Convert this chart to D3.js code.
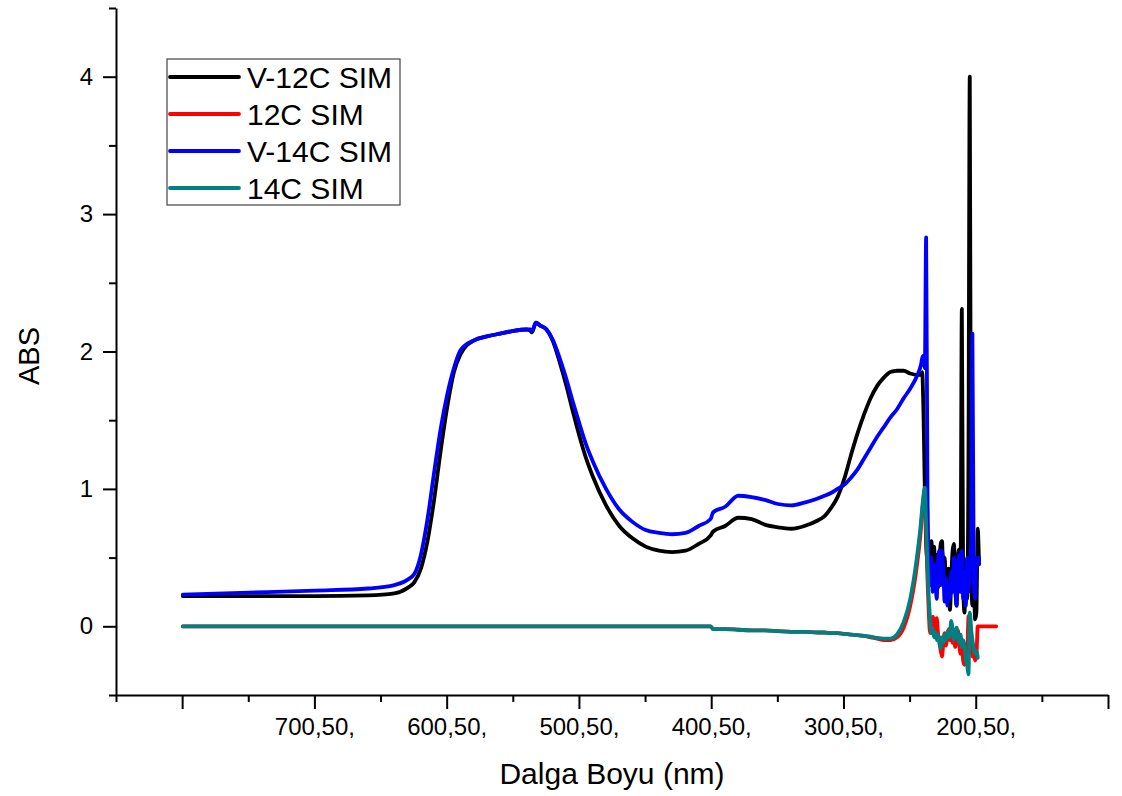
<!DOCTYPE html>
<html>
<head>
<meta charset="utf-8">
<script src="https://cdn.jsdelivr.net/npm/d3@7/dist/d3.min.js"></script>
<style>
  html, body { margin: 0; padding: 0; background: #fff; }
  svg { display: block; }
  text { font-family: "Liberation Sans", Arial, sans-serif; fill: #000; }
</style>
</head>
<body>
<svg id="chart" width="1122" height="796"></svg>
<script>
// Wavelength grid (nm), scanned from 800 nm downward
const wavelength = [
  800, 750, 700, 660, 640, 630, 625, 620, 615, 610,
  605, 600, 595, 590, 580, 570, 560, 550, 540, 537,
  536, 533, 530, 525, 520, 515, 510, 505, 500, 495,
  490, 480, 470, 460, 450, 440, 430, 420, 410, 401,
  399, 390, 380, 370, 360, 350, 340, 330, 320, 315,
  310, 305, 300, 295, 290, 285, 280, 275, 270, 265,
  260, 255, 250, 245, 242, 241, 240, 239, 238, 237,
  236, 235, 234, 233, 232, 231, 230, 229, 228, 227,
  226, 225, 224, 223, 222, 221, 220, 219, 218, 217,
  216, 215, 214, 213, 212, 211, 210, 209, 208, 207,
  206, 205, 204, 203, 202, 201, 200, 199, 198, 185
];

// Absorbance of each sample on the grid above (null = not measured)
const absV12C = [
  0.22, 0.22, 0.22, 0.225, 0.24, 0.28, 0.32, 0.42, 0.62, 0.92,
  1.28, 1.60, 1.85, 1.98, 2.08, 2.11, 2.13, 2.15, 2.16, 2.15,
  2.14, 2.21, 2.19, 2.16, 2.07, 1.92, 1.75, 1.56, 1.38, 1.22,
  1.09, 0.88, 0.73, 0.64, 0.58, 0.55, 0.54, 0.55, 0.60, 0.66,
  0.69, 0.73, 0.79, 0.78, 0.74, 0.72, 0.71, 0.73, 0.77, 0.80,
  0.86, 0.94, 1.07, 1.24, 1.40, 1.54, 1.66, 1.75, 1.81, 1.85,
  1.86, 1.86, 1.84, 1.83, 1.83, 1.85, 1.55, 1.00, 0.60, 0.45,
  0.30, 0.55, 0.62, 0.40, 0.58, 0.35, 0.52, 0.28, 0.45, 0.60,
  0.62, 0.38, 0.50, 0.30, 0.20, 0.42, 0.12, 0.35, 0.55, 0.60,
  0.30, 0.15, 0.50, 0.56, 0.40, 2.31, 0.30, 0.10, 0.45, 0.20,
  1.20, 4.00, 0.50, 0.15, 0.40, 0.05, 0.10, 0.71, 0.45, null
];

const abs12C = [
  0.00, 0.00, 0.00, 0.00, 0.00, 0.00, 0.00, 0.00, 0.00, 0.00,
  0.00, 0.00, 0.00, 0.00, 0.00, 0.00, 0.00, 0.00, 0.00, 0.00,
  0.00, 0.00, 0.00, 0.00, 0.00, 0.00, 0.00, 0.00, 0.00, 0.00,
  0.00, 0.00, 0.00, 0.00, 0.00, 0.00, 0.00, 0.00, 0.00, 0.00,
  -0.02, -0.02, -0.025, -0.03, -0.03, -0.035, -0.04, -0.04, -0.045, -0.045,
  -0.05, -0.05, -0.055, -0.06, -0.065, -0.07, -0.08, -0.09, -0.10, -0.10,
  -0.08, -0.01, 0.15, 0.44, 0.70, 0.82, 0.93, 1.00, 0.70, 0.35,
  0.10, -0.05, 0.02, 0.07, 0.04, -0.02, 0.06, -0.05, -0.10, -0.18,
  -0.22, -0.12, -0.05, -0.14, -0.08, -0.02, -0.10, -0.03, -0.12, -0.05,
  -0.15, -0.08, -0.03, -0.12, -0.20, -0.10, -0.25, -0.28, -0.15, -0.22,
  0.07, 0.08, -0.10, -0.22, -0.18, -0.25, -0.22, 0.00, 0.00, 0.00
];

const absV14C = [
  0.23, 0.245, 0.26, 0.275, 0.30, 0.34, 0.38, 0.52, 0.78, 1.12,
  1.44, 1.69, 1.88, 2.01, 2.08, 2.11, 2.13, 2.15, 2.16, 2.16,
  2.15, 2.21, 2.19, 2.16, 2.08, 1.95, 1.80, 1.63, 1.47, 1.32,
  1.20, 1.00, 0.85, 0.76, 0.70, 0.68, 0.67, 0.68, 0.73, 0.78,
  0.83, 0.87, 0.95, 0.94, 0.92, 0.89, 0.88, 0.90, 0.93, 0.95,
  0.97, 1.00, 1.03, 1.08, 1.14, 1.22, 1.30, 1.38, 1.45, 1.52,
  1.58, 1.66, 1.73, 1.82, 1.90, 1.95, 1.97, 1.88, 2.83, 1.00,
  0.45, 0.30, 0.50, 0.25, 0.45, 0.35, 0.20, 0.48, 0.55, 0.30,
  0.55, 0.40, 0.18, 0.35, 0.15, 0.30, 0.20, 0.40, 0.25, 0.50,
  0.30, 0.15, 0.45, 0.52, 0.25, 0.55, 0.20, 0.40, 0.15, 0.50,
  0.25, 0.40, 0.60, 2.13, 0.35, 0.20, 0.50, 0.45, 0.50, null
];

const abs14C = [
  0.00, 0.00, 0.00, 0.00, 0.00, 0.00, 0.00, 0.00, 0.00, 0.00,
  0.00, 0.00, 0.00, 0.00, 0.00, 0.00, 0.00, 0.00, 0.00, 0.00,
  0.00, 0.00, 0.00, 0.00, 0.00, 0.00, 0.00, 0.00, 0.00, 0.00,
  0.00, 0.00, 0.00, 0.00, 0.00, 0.00, 0.00, 0.00, 0.00, 0.00,
  -0.02, -0.02, -0.025, -0.03, -0.03, -0.035, -0.04, -0.04, -0.045, -0.045,
  -0.05, -0.05, -0.055, -0.06, -0.065, -0.07, -0.075, -0.085, -0.09, -0.09,
  -0.06, 0.03, 0.20, 0.50, 0.75, 0.86, 0.95, 1.01, 0.75, 0.45,
  0.20, 0.05, -0.05, -0.02, -0.08, -0.04, -0.10, -0.06, -0.12, -0.16,
  -0.08, -0.12, -0.06, -0.10, -0.04, -0.08, -0.05, 0.04, -0.02, -0.10,
  -0.04, -0.01, -0.08, -0.12, -0.06, -0.15, -0.10, -0.14, -0.25, -0.28,
  -0.35, 0.10, -0.02, -0.10, -0.16, -0.20, -0.18, -0.23, null, null
];

const seriesNames = ["V-12C SIM", "12C SIM", "V-14C SIM", "14C SIM"];
const seriesColors = ["#000000", "#ff0000", "#0000ff", "#008080"];
const seriesValues = [absV12C, abs12C, absV14C, abs14C];

// Axis ticks
const xMajorTicks = [800.5, 700.5, 600.5, 500.5, 400.5, 300.5, 200.5, 100.5];
const xTickLabels = ["", "700,50,", "600,50,", "500,50,", "400,50,", "300,50,", "200,50,", ""];
const xMinorTicks = [850.5, 750.5, 650.5, 550.5, 450.5, 350.5, 250.5, 150.5];
const yMajorTicks = [0, 1, 2, 3, 4];
const yMinorTicks = [-0.5, 0.5, 1.5, 2.5, 3.5, 4.5];

const svg = d3.select("#chart");
const plot = { left: 116, right: 1108, top: 8, bottom: 695 };

const x = d3.scaleLinear().domain([850.5, 100.5]).range([plot.left, plot.right]);
const y = d3.scaleLinear().domain([-0.5, 4.5]).range([plot.bottom, plot.top]);

// Spectra
const line = d3.line()
  .defined(d => d.v !== null)
  .curve(d3.curveMonotoneX)
  .x(d => x(d.w))
  .y(d => y(d.v));

seriesValues.forEach((vals, i) => {
  const pts = wavelength.map((w, j) => ({ w, v: vals[j] }));
  svg.append("path")
    .datum(pts)
    .attr("fill", "none")
    .attr("stroke", seriesColors[i])
    .attr("stroke-width", 3.8)
    .attr("stroke-linejoin", "round")
    .attr("stroke-linecap", "round")
    .attr("d", line);
});

// Minor ticks
svg.append("g")
  .attr("transform", `translate(0,${plot.bottom})`)
  .call(d3.axisBottom(x).tickValues(xMinorTicks).tickSize(7).tickFormat(""))
  .call(g => g.select(".domain").remove())
  .call(g => g.selectAll("line").attr("stroke-width", 2));

svg.append("g")
  .attr("transform", `translate(${plot.left},0)`)
  .call(d3.axisLeft(y).tickValues(yMinorTicks).tickSize(7).tickFormat(""))
  .call(g => g.select(".domain").remove())
  .call(g => g.selectAll("line").attr("stroke-width", 2));

// Major axes
const xAxis = svg.append("g")
  .attr("transform", `translate(0,${plot.bottom})`)
  .call(d3.axisBottom(x)
    .tickValues(xMajorTicks)
    .tickSize(14)
    .tickSizeOuter(0)
    .tickPadding(9)
    .tickFormat((d, i) => xTickLabels[i]));
xAxis.select(".domain").attr("stroke-width", 2);
xAxis.selectAll("line").attr("stroke-width", 2);
xAxis.selectAll("text")
  .attr("font-size", 24)
  .attr("font-family", "Liberation Sans, Arial, sans-serif");

const yAxis = svg.append("g")
  .attr("transform", `translate(${plot.left},0)`)
  .call(d3.axisLeft(y)
    .tickValues(yMajorTicks)
    .tickSize(13)
    .tickSizeOuter(0)
    .tickPadding(10)
    .tickFormat(d3.format("d")));
yAxis.select(".domain").attr("stroke-width", 2);
yAxis.selectAll("line").attr("stroke-width", 2);
yAxis.selectAll("text")
  .attr("font-size", 24)
  .attr("font-family", "Liberation Sans, Arial, sans-serif");

// Axis titles
svg.append("text")
  .attr("x", 612)
  .attr("y", 784)
  .attr("text-anchor", "middle")
  .attr("font-size", 30)
  .text("Dalga Boyu (nm)");

svg.append("text")
  .attr("transform", "translate(39,356) rotate(-90)")
  .attr("text-anchor", "middle")
  .attr("font-size", 29)
  .text("ABS");

// Legend
const legend = svg.append("g").attr("transform", "translate(167,59)");
legend.append("rect")
  .attr("width", 233)
  .attr("height", 146)
  .attr("fill", "#fff")
  .attr("stroke", "#444")
  .attr("stroke-width", 1.2);

seriesNames.forEach((name, i) => {
  const row = legend.append("g").attr("transform", `translate(0,${18 + i * 37})`);
  row.append("line")
    .attr("x1", 3).attr("x2", 72)
    .attr("y1", 0).attr("y2", 0)
    .attr("stroke", seriesColors[i])
    .attr("stroke-width", 3.8)
    .attr("stroke-linecap", "round");
  row.append("text")
    .attr("x", 80)
    .attr("y", 0)
    .attr("dy", "0.36em")
    .attr("font-size", 30)
    .text(name);
});
</script>
</body>
</html>
